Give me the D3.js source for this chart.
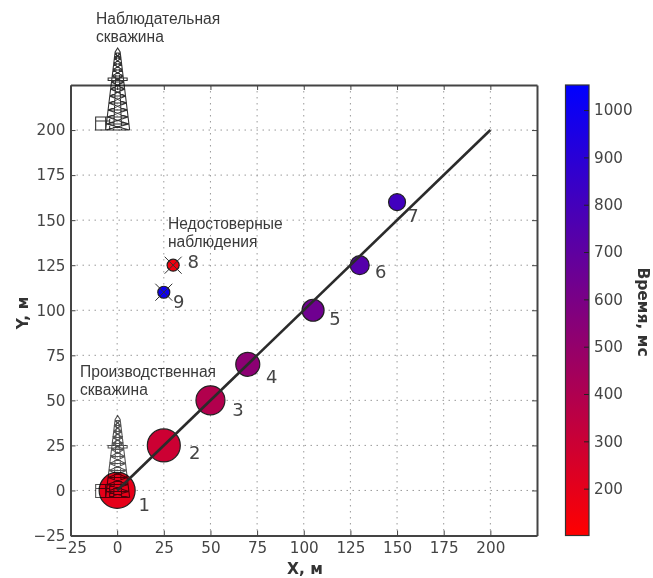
<!DOCTYPE html>
<html>
<head>
<meta charset="utf-8">
<script src="https://cdn.jsdelivr.net/npm/d3@7"></script>
<style>
  html, body { margin: 0; padding: 0; background: #fff; }
  text { font-family: "DejaVu Sans", sans-serif; fill: #444; }
  .note { font-family: "Liberation Sans", Arial, sans-serif; font-size: 15.6px; fill: #3a3a3a; }
  .tick text { font-size: 15.2px; fill: #444; font-family: "DejaVu Sans", sans-serif; }
  .title { font-size: 15.5px; font-weight: bold; fill: #333; }
  .num { font-size: 18px; fill: #444; }
</style>
</head>
<body>
<div id="chart"></div>
<script>
// Values
var pointIds = [1, 2, 3, 4, 5, 6, 7, 8, 9];
var xValues = [0, 25, 50, 70, 105, 130, 150, 30, 25];
var yValues = [0, 25, 50, 70, 100, 125, 160, 125, 110];
var timeValues = [195, 290, 390, 530, 640, 735, 810, 150, 1000];
var amplitudes = [324, 272, 210, 144, 121, 90, 72, 36, 36];
var unreliableIds = [8, 9];
var fitX = [0, 200];
var fitY = [0, 200];
var axisTicks = [-25, 0, 25, 50, 75, 100, 125, 150, 175, 200];
var timeTicks = [200, 300, 400, 500, 600, 700, 800, 900, 1000];
var wellX = [0, 0];
var wellY = [200, 0];
var timeDomain = [101, 1053];
var axisDomain = [-25, 225];

var width = 653, height = 578;
var margin = {top: 85, left: 70.5, right: 116, bottom: 42.5};
var drawWidth = width - margin.left - margin.right;
var drawHeight = height - margin.top - margin.bottom;

var xScale = d3.scaleLinear().domain(axisDomain).range([0, drawWidth]);
var yScale = d3.scaleLinear().domain(axisDomain).range([drawHeight, 0]);
var rScale = d3.scaleSqrt().domain([0, 324]).range([0, 18]);
var colorScale = d3.scaleLinear().domain(timeDomain).range(['#ff0000', '#0000ff']);

var points = pointIds.map(function(id, i) {
    return {id: id, x: xValues[i], y: yValues[i], t: timeValues[i], a: amplitudes[i]};
});

var svg = d3.select('#chart').append('svg')
    .attr('width', width)
    .attr('height', height)
    .style('display', 'block');

var g = svg.append('g')
    .attr('transform', 'translate(' + margin.left + ',' + margin.top + ')');

// Grid
g.append('g').selectAll('line').data(axisTicks.slice(1)).enter().append('line')
    .attr('x1', function(d) {return xScale(d);})
    .attr('x2', function(d) {return xScale(d);})
    .attr('y1', 0).attr('y2', drawHeight);
g.append('g').selectAll('line').data(axisTicks.slice(1)).enter().append('line')
    .attr('y1', function(d) {return yScale(d);})
    .attr('y2', function(d) {return yScale(d);})
    .attr('x1', 0).attr('x2', drawWidth);
g.selectAll('g line')
    .attr('stroke', '#9a9a9a')
    .attr('stroke-width', 1)
    .attr('stroke-dasharray', '1.5,4.5');

// Axes, ticks point inwards on all four sides
var xAxis = d3.axisBottom(xScale).tickValues(axisTicks).tickSizeInner(-5).tickSizeOuter(0).tickPadding(7);
var yAxis = d3.axisLeft(yScale).tickValues(axisTicks).tickSizeInner(-5).tickSizeOuter(0).tickPadding(5);
var xTop = d3.axisTop(xScale).tickValues(axisTicks).tickSizeInner(-5).tickSizeOuter(0).tickFormat('');
var yRight = d3.axisRight(yScale).tickValues(axisTicks).tickSizeInner(-5).tickSizeOuter(0).tickFormat('');

var axes = [
    g.append('g').attr('transform', 'translate(0,' + drawHeight + ')').call(xAxis),
    g.append('g').call(yAxis),
    g.append('g').call(xTop),
    g.append('g').attr('transform', 'translate(' + drawWidth + ',0)').call(yRight)
];
axes.forEach(function(a) {
    a.selectAll('.domain').attr('stroke', '#444').attr('stroke-width', 2);
    a.selectAll('.tick line').attr('stroke', '#444').attr('stroke-width', 1);
});

// Oil derrick icon, local coords: base centre at 0,0, top at -82
function derrick(sel, stroke, strokeWidth) {
    var p = d3.path();
    var levels = [0, 6, 13, 20, 27, 34, 41, 48, 54, 60, 66, 72, 77];
    function hw(h) {return 12 - 9.5 * h / 82;}
    p.moveTo(-hw(0), 0); p.lineTo(-2.5, -78); p.lineTo(0, -82); p.lineTo(2.5, -78); p.lineTo(hw(0), 0);
    levels.forEach(function(h, i) {
        p.moveTo(-hw(h), -h); p.lineTo(hw(h), -h);
        if (i < levels.length - 1) {
            var n = levels[i + 1];
            p.moveTo(-hw(h), -h); p.lineTo(hw(n), -n);
            p.moveTo(hw(h), -h); p.lineTo(-hw(n), -n);
            p.moveTo(-hw(h) / 3, -h); p.lineTo(-hw(n) / 3, -n);
            p.moveTo(hw(h) / 3, -h); p.lineTo(hw(n) / 3, -n);
        }
    });
    // platform
    p.rect(-9.5, -52, 19, 2.5);
    // shed on the left
    p.rect(-22, -13, 14, 13);
    p.moveTo(-22, -9); p.lineTo(-8, -9);
    p.moveTo(-12, -13); p.lineTo(-12, 0);
    sel.append('path')
        .attr('d', p.toString())
        .attr('fill', 'none')
        .attr('stroke', stroke)
        .attr('stroke-width', strokeWidth);
}

// Fitted line
var line = d3.line()
    .x(function(d) {return xScale(d);})
    .y(function(d, i) {return yScale(fitY[i]);});

// Points
g.append('g').selectAll('circle').data(points).enter().append('circle')
    .attr('cx', function(d) {return xScale(d.x);})
    .attr('cy', function(d) {return yScale(d.y);})
    .attr('r', function(d) {return rScale(d.a);})
    .attr('fill', function(d) {return colorScale(d.t);})
    .attr('stroke', '#222')
    .attr('stroke-width', 1.2);

// Crosses over the unreliable ones
var crossHalf = 8.5;
var bad = points.filter(function(d) {return unreliableIds.indexOf(d.id) >= 0;});
g.append('g').selectAll('path').data(bad).enter().append('path')
    .attr('transform', function(d) {return 'translate(' + xScale(d.x) + ',' + yScale(d.y) + ')';})
    .attr('d', 'M' + -crossHalf + ',' + -crossHalf + 'L' + crossHalf + ',' + crossHalf +
               'M' + crossHalf + ',' + -crossHalf + 'L' + -crossHalf + ',' + crossHalf)
    .attr('stroke', '#333')
    .attr('stroke-width', 1)
    .attr('fill', 'none');

// Wells, multiply so the one on top of point 1 stays red
var wellShift = [0, 7];
var wellStroke = ['#333', '#555'];
wellX.forEach(function(x, i) {
    g.append('g')
        .attr('transform', 'translate(' + (xScale(x) + 0.5) + ',' + (yScale(wellY[i]) + wellShift[i]) + ')')
        .style('mix-blend-mode', 'multiply')
        .call(derrick, wellStroke[i], 1.1);
});

g.append('path')
    .attr('d', line(fitX))
    .attr('fill', 'none')
    .attr('stroke', '#2b2b2b')
    .attr('stroke-width', 2.6);

// Point numbers
var labelOffsets = [[27, 14], [31, 7], [27.5, 9], [24, 12], [22, 8], [21, 6], [16, 13], [20, -4], [15, 9]];
g.append('g').selectAll('text').data(points).enter().append('text')
    .attr('class', 'num')
    .attr('x', function(d, i) {return xScale(d.x) + labelOffsets[i][0];})
    .attr('y', function(d, i) {return yScale(d.y) + labelOffsets[i][1];})
    .attr('text-anchor', 'middle')
    .attr('dy', '0.36em')
    .text(function(d) {return d.id;});

// Notes
var notes = [
    {x: 96, y: 24, lines: ['Наблюдательная', 'скважина']},
    {x: 168, y: 229, lines: ['Недостоверные', 'наблюдения']},
    {x: 80, y: 377, lines: ['Производственная', 'скважина']}
];
notes.forEach(function(n) {
    n.lines.forEach(function(t, i) {
        svg.append('text').attr('class', 'note')
            .attr('x', n.x)
            .attr('y', n.y + i * 17.5)
            .text(t);
    });
});

// Axis titles
svg.append('text').attr('class', 'title')
    .attr('x', 305).attr('y', 574)
    .attr('text-anchor', 'middle')
    .text('X, м');
svg.append('text').attr('class', 'title')
    .attr('transform', 'translate(28,313) rotate(-90)')
    .attr('text-anchor', 'middle')
    .text('Y, м');

// Colorbar
var barX = 565.5, barW = 23.5;
var barScale = d3.scaleLinear().domain(timeDomain).range([margin.top + drawHeight, margin.top]);
var defs = svg.append('defs');
var grad = defs.append('linearGradient')
    .attr('id', 'timeGrad')
    .attr('x1', 0).attr('x2', 0).attr('y1', 1).attr('y2', 0);
grad.selectAll('stop').data(timeDomain).enter().append('stop')
    .attr('offset', function(d, i) {return i;})
    .attr('stop-color', function(d) {return colorScale(d);});
svg.append('rect')
    .attr('x', barX).attr('y', margin.top)
    .attr('width', barW).attr('height', drawHeight)
    .attr('fill', 'url(#timeGrad)')
    .attr('stroke', '#333')
    .attr('stroke-width', 1.2);

var timeAxis = d3.axisRight(barScale).tickValues(timeTicks).tickFormat(d3.format('d'))
    .tickSizeInner(-5).tickSizeOuter(0).tickPadding(5);
var timeG = svg.append('g')
    .attr('transform', 'translate(' + (barX + barW) + ',0)')
    .call(timeAxis);
timeG.select('.domain').remove();
timeG.selectAll('.tick line').attr('stroke', '#222');

svg.append('text').attr('class', 'title')
    .attr('transform', 'translate(638,312) rotate(90)')
    .attr('text-anchor', 'middle')
    .text('Время, мс');
</script>
</body>
</html>
